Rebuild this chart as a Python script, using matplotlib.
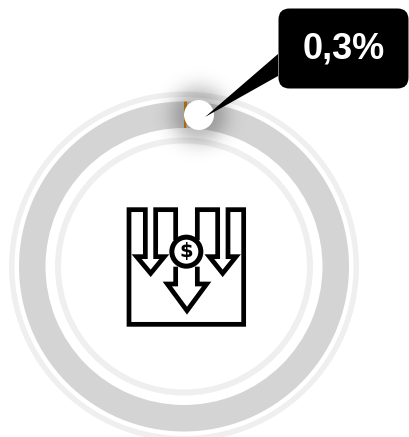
import matplotlib
matplotlib.use("Agg")
import numpy as np
import matplotlib.pyplot as plt
from matplotlib.patches import Circle, FancyBboxPatch, Polygon, Wedge

# data
percent_value = 0.3
remainder_value = 100 - percent_value
label_text = "0,3%"
slice_values = [percent_value, remainder_value]
slice_colors = ["#d98a17", "#d4d4d4"]

H = 437
def Y(y):
    return H - y

fig = plt.figure(figsize=(4.09, 4.37), dpi=100)
ax = fig.add_axes([0, 0, 1, 1])

cx, cy = 184, Y(266.5)
# thin guide rings
ax.add_patch(Wedge((cx, cy), 175, 0, 360, width=5.5, fc="#efefef", ec="none", zorder=1))
ax.add_patch(Wedge((cx, cy), 129, 0, 360, width=6, fc="#efefef", ec="none", zorder=1))
# donut
ax.pie(slice_values, colors=slice_colors, startangle=90, counterclock=False,
       radius=165, center=(cx, cy), frame=True,
       wedgeprops=dict(width=26.5, linewidth=0))

# marker shadow (soft blur)
mx, my = 199, Y(115)
R = 60
gx, gy = np.meshgrid(np.arange(-R, R + 1), np.arange(-R, R + 1))
dist = np.hypot(gx, gy)
rgba = np.zeros(dist.shape + (4,))
rgba[..., 3] = 0.24 * np.exp(-(np.clip(dist - 14, 0, None) / 17.0) ** 2)
ax.imshow(rgba, extent=(mx - R, mx + R, my - R, my + R), origin="lower",
          interpolation="bilinear", zorder=3)
ax.add_patch(Circle((mx, my), 15, fc="white", ec="none", zorder=5))

# callout
ax.add_patch(Polygon([(278, Y(54)), (278, Y(76)), (205, Y(117))], closed=True,
                     fc="black", ec="none", zorder=6))
ax.add_patch(FancyBboxPatch((289, Y(78)), 109, 59,
                            boxstyle="round,pad=10.5,rounding_size=11",
                            fc="black", ec="none", zorder=6, clip_on=False))
ax.text(344, Y(49), label_text, color="white", fontsize=26, fontweight="bold",
        family="Liberation Sans", ha="center", va="center", zorder=7)

# icon: coordinates in px
lw = 3.4
def line(pts, closed=False, fc="none", z=8):
    P = [(x, Y(y)) for x, y in pts]
    ax.add_patch(Polygon(P, closed=closed, fc=fc, ec="black", lw=lw,
                         joinstyle="miter", zorder=z))

ox, oy = 110, 190
def z(pts):
    return [(ox + x / 3, oy + y / 3) for x, y in pts]

frame = [(197, 150), (197, 59), (137, 59), (137, 200), (163, 200), (122, 250), (80, 200),
         (106, 200), (106, 59), (57, 59), (57, 403), (401, 403), (401, 59),
         (354, 59), (354, 200), (378, 200), (338, 250), (298, 200), (323, 200),
         (323, 59), (262, 59), (262, 150)]
line(z(frame))
line(z([(197, 230), (197, 282), (172, 282), (231, 362), (290, 282), (262, 282), (262, 230)]))
ax.add_patch(Circle((ox + 229 / 3, Y(oy + 185 / 3)), 14.5, fc="white", ec="black", lw=3.6, zorder=9))
ax.text(ox + 229 / 3, Y(oy + 186 / 3), "$", fontsize=14, fontweight="bold", family="DejaVu Sans",
        ha="center", va="center", color="black", zorder=10)

ax.set_xlim(0, 409)
ax.set_ylim(0, H)
ax.set_aspect("equal")
ax.axis("off")
fig.savefig("out.png", dpi=100)
